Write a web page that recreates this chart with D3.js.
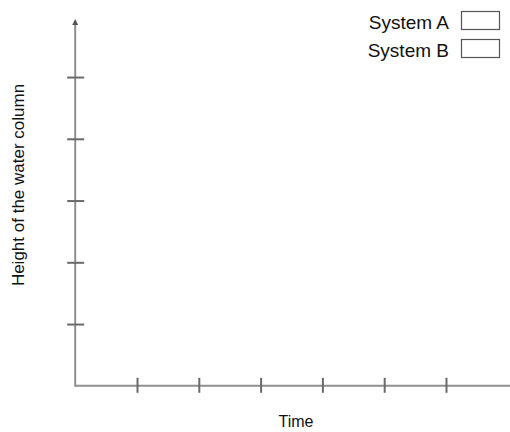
<!DOCTYPE html>
<html>
<head>
<meta charset="utf-8">
<script src="https://cdn.jsdelivr.net/npm/d3@7"></script>
<style>
  html, body { margin: 0; padding: 0; background: #fff; }
  svg { display: block; font-family: "Liberation Sans", Arial, sans-serif; }
</style>
</head>
<body>
<svg id="chart" width="510" height="432"></svg>
<script>
// Blank sketch axes: time vs. water column height, two systems to be drawn in
const xTicks = [1, 2, 3, 4, 5, 6];
const yTicks = [1, 2, 3, 4, 5];
const systems = ["System A", "System B"];
const xTitle = "Time";
const yTitle = "Height of the water column";

const svg = d3.select("#chart");
const W = 510, H = 432;

const x = d3.scaleLinear().domain([0, 7]).range([75.2, 507.8]);
const y = d3.scaleLinear().domain([0, 6]).range([385.8, 15.3]);

const axisColor = "#8f8f8f";
const tickColor = "#6a6a6a";

// x axis line runs to the right edge
svg.append("line")
  .attr("x1", x(0)).attr("x2", W)
  .attr("y1", y(0)).attr("y2", y(0))
  .attr("stroke", axisColor).attr("stroke-width", 2);

// y axis line with arrow head
svg.append("defs").append("marker")
  .attr("id", "arrow")
  .attr("viewBox", "0 0 10 10")
  .attr("refX", 5).attr("refY", 5)
  .attr("markerUnits", "userSpaceOnUse")
  .attr("markerWidth", 6).attr("markerHeight", 8)
  .attr("orient", "auto")
  .append("path")
  .attr("d", "M0,0 L10,5 L0,10 Z")
  .attr("fill", "#555");

svg.append("line")
  .attr("x1", x(0)).attr("x2", x(0))
  .attr("y1", y(0) + 1).attr("y2", 22)
  .attr("stroke", axisColor).attr("stroke-width", 2)
  .attr("marker-end", "url(#arrow)");

// x ticks crossing the axis
const xAxis = svg.append("g")
  .attr("transform", `translate(0,${y(0)})`)
  .call(d3.axisBottom(x).tickValues(xTicks).tickFormat("").tickSize(7));
xAxis.select(".domain").remove();
xAxis.selectAll(".tick line")
  .attr("y1", -8).attr("y2", 7)
  .attr("stroke", tickColor).attr("stroke-width", 2);

// y ticks crossing the axis
const yAxis = svg.append("g")
  .attr("transform", `translate(${x(0)},0)`)
  .call(d3.axisLeft(y).tickValues(yTicks).tickFormat("").tickSize(8));
yAxis.select(".domain").remove();
yAxis.selectAll(".tick line")
  .attr("x1", -8).attr("x2", 9)
  .attr("stroke", tickColor).attr("stroke-width", 2);

// axis titles
svg.append("text")
  .attr("x", 296).attr("y", 427)
  .attr("text-anchor", "middle")
  .attr("font-size", 16)
  .attr("fill", "#111")
  .text(xTitle);

svg.append("text")
  .attr("transform", "translate(24,185) rotate(-90)")
  .attr("text-anchor", "middle")
  .attr("font-size", 17)
  .attr("fill", "#111")
  .text(yTitle);

// legend with empty swatches
const legend = svg.append("g");
const rows = legend.selectAll("g").data(systems).join("g")
  .attr("transform", (d, i) => `translate(0,${i * 28})`);
rows.append("text")
  .attr("x", 449).attr("y", 29)
  .attr("text-anchor", "end")
  .attr("font-size", 19)
  .attr("fill", "#111")
  .text(d => d);
rows.append("rect")
  .attr("x", 461.5).attr("y", 11.5)
  .attr("width", 38).attr("height", 18)
  .attr("fill", "#fff")
  .attr("stroke", "#555").attr("stroke-width", 1.2);
</script>
</body>
</html>
